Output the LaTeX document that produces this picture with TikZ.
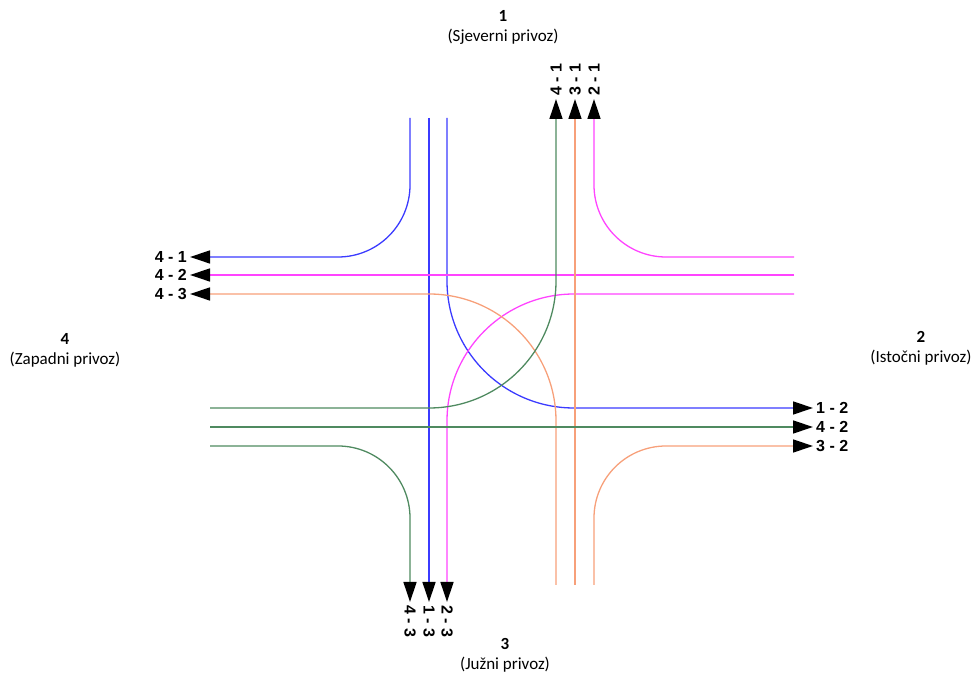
\documentclass[tikz,border=0pt]{standalone}
\usepackage{fontspec}
\setmainfont{Carlito}
\newfontfamily\arialf{Liberation Sans}
\usetikzlibrary{arrows.meta}
\definecolor{prv1}{HTML}{3B3BFF}
\definecolor{prv2}{HTML}{FF44FF}
\definecolor{prv3}{HTML}{F7A07A}
\definecolor{prv4}{HTML}{4F8A60}

\begin{document}
\begin{tikzpicture}[x = 1pt, y = 1pt,
    tok/.style = {line width = 1.3pt, -{Triangle[length = 20pt, width = 13pt, color = black]}},
    blizu/.style = {rounded corners = 72pt},
    daleko/.style = {rounded corners = 127pt},
    oznaka/.style = {font = \arialf\bfseries\fontsize{16}{18}\selectfont, inner sep = 3pt},
    privoz/.style = {font = \fontsize{17}{20}\selectfont, align = center}]
    \useasboundingbox (0,0) rectangle (975,675);
    \node[privoz] (p1) at (503,648) {\textbf{1}\\(Sjeverni privoz)};
    \node[privoz] (p2) at (921,327) {\textbf{2}\\(Istočni privoz)};
    \node[privoz] (p3) at (505,20) {\textbf{3}\\(Južni privoz)};
    \node[privoz] (p4) at (65,325) {\textbf{4}\\(Zapadni privoz)};
    \node[oznaka, anchor = east] (z41) at (190,418) {4 - 1};
    \node[oznaka, anchor = east] (z42) at (190,400) {4 - 2};
    \node[oznaka, anchor = east] (z43) at (190,381) {4 - 3};
    \node[oznaka, anchor = west] (i12) at (813,267) {1 - 2};
    \node[oznaka, anchor = west] (i42) at (813,248) {4 - 2};
    \node[oznaka, anchor = west] (i32) at (813,229) {3 - 2};
    \node[oznaka, anchor = west, rotate = 90] (s41) at (556,576) {4 - 1};
    \node[oznaka, anchor = west, rotate = 90] (s31) at (575,576) {3 - 1};
    \node[oznaka, anchor = west, rotate = 90] (s21) at (594,576) {2 - 1};
    \node[oznaka, anchor = west, rotate = -90] (j43) at (410,73) {4 - 3};
    \node[oznaka, anchor = west, rotate = -90] (j13) at (429,73) {1 - 3};
    \node[oznaka, anchor = west, rotate = -90] (j23) at (447,73) {2 - 3};
    \coordinate (a1) at (410,557);
    \coordinate (a2) at (429,557);
    \coordinate (a3) at (447,557);
    \coordinate (b1) at (794,418);
    \coordinate (b2) at (794,400);
    \coordinate (b3) at (794,381);
    \coordinate (c1) at (556,90);
    \coordinate (c2) at (575,90);
    \coordinate (c3) at (594,90);
    \coordinate (d1) at (210,267);
    \coordinate (d2) at (210,248);
    \coordinate (d3) at (210,229);
    \draw[tok, blizu, prv1] (a1) |- (z41);
    \draw[tok, prv1] (a2) -- (j13);
    \draw[tok, daleko, prv1] (a3) |- (i12);
    \draw[tok, blizu, prv2] (b1) -| (s21);
    \draw[tok, prv2] (b2) -- (z42);
    \draw[tok, daleko, prv2] (b3) -| (j23);
    \draw[tok, daleko, prv3] (c1) |- (z43);
    \draw[tok, prv3] (c2) -- (s31);
    \draw[tok, blizu, prv3] (c3) |- (i32);
    \draw[tok, daleko, prv4] (d1) -| (s41);
    \draw[tok, prv4] (d2) -- (i42);
    \draw[tok, blizu, prv4] (d3) -| (j43);
\end{tikzpicture}
\end{document}
